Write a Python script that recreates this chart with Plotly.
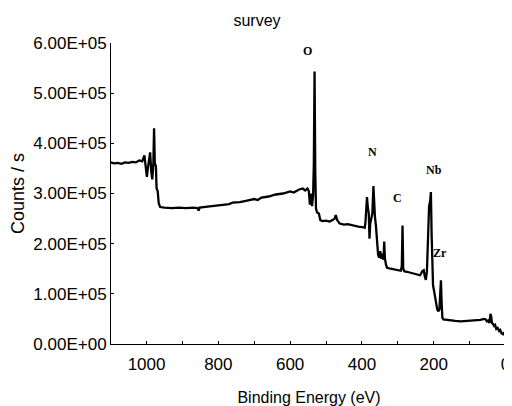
import plotly.graph_objects as go

# Binding energy (eV) and intensity (counts/s)
energy_ev = [1100, 1090, 1080, 1070, 1060, 1050, 1040, 1030, 1020, 1012, 1006, 1003, 999, 996, 993, 990,
             987, 984, 981, 979, 977, 974, 972, 969, 966, 962, 950, 930, 910, 890, 870, 858, 855, 852,
             830, 810, 790, 770, 760, 740, 720, 700, 690, 680, 660, 640, 620, 600, 590, 575, 565, 558,
             552, 548, 545, 542, 539, 536, 534, 532, 530, 528, 525, 520, 516, 510, 500, 490, 482, 476,
             473, 469, 462, 450, 440, 430, 420, 410, 400, 392, 390, 388, 386, 384, 381, 379, 377, 374,
             371, 368, 366, 364, 361, 358, 355, 352, 349, 347, 345, 342, 340, 338, 336, 333, 330, 320,
             310, 300, 292, 289, 287, 285, 282, 275, 265, 255, 245, 238, 232, 228, 225, 222, 219, 216,
             213, 210, 208, 206, 204, 202, 199, 196, 193, 190, 187, 184, 182, 180, 178, 176, 173, 165,
             150, 140, 125, 110, 100, 90, 80, 70, 60, 55, 52, 48, 45, 42, 40, 38, 35, 32, 29, 26, 22,
             18, 15, 12, 8, 5, 2, 0]
counts = [362000, 360000, 361000, 359000, 362000, 361000, 363000, 362000, 366000, 364000, 376000, 358000,
          333000, 352000, 372000, 382000, 345000, 328000, 360000, 430000, 360000, 355000, 310000, 305000,
          280000, 273000, 272000, 271000, 272000, 271000, 272000, 271000, 266000, 272000, 274000, 276000,
          278000, 279000, 282000, 283000, 286000, 289000, 287000, 292000, 294000, 298000, 300000, 304000,
          302000, 308000, 310000, 306000, 310000, 305000, 278000, 300000, 275000, 298000, 360000, 543000,
          340000, 270000, 262000, 260000, 247000, 245000, 246000, 244000, 247000, 250000, 257000, 247000,
          240000, 238000, 239000, 237000, 236000, 234000, 233000, 232000, 245000, 290000, 293000, 275000,
          260000, 210000, 240000, 250000, 260000, 315000, 270000, 255000, 235000, 200000, 178000, 172000,
          185000, 170000, 180000, 172000, 168000, 204000, 170000, 158000, 152000, 150000, 149000, 147000,
          146000, 155000, 236000, 150000, 145000, 144000, 142000, 140000, 138000, 137000, 145000, 147000,
          135000, 128000, 145000, 200000, 275000, 285000, 303000, 220000, 130000, 117000, 105000, 90000,
          78000, 68000, 65000, 70000, 100000, 127000, 80000, 52000, 49000, 48000, 47000, 46000, 45000,
          46000, 46000, 47000, 47000, 48000, 50000, 49000, 45000, 47000, 42000, 60000, 55000, 42000,
          40000, 36000, 38000, 30000, 32000, 26000, 28000, 22000, 20000, 22000, 17000, 16000]

# Peak labels
peak_labels = ["O", "N", "C", "Nb", "Zr"]
peak_label_ev = [552, 371, 302, 200, 182]
peak_label_counts = [584000, 383000, 291000, 347000, 181000]

# Axis ticks
y_tick_vals = [0, 100000, 200000, 300000, 400000, 500000, 600000]
y_tick_text = ["0.00E+00", "1.00E+05", "2.00E+05", "3.00E+05", "4.00E+05", "5.00E+05", "6.00E+05"]
x_tick_vals = [1000, 800, 600, 400, 200, 0]
x_tick_text = ["1000", "800", "600", "400", "200", "0"]
x_minor_vals = [900, 700, 500, 300, 100]

FONT = "Liberation Sans, Arial, sans-serif"
W, H = 504, 398  # page body adds an 8px margin in the 512x406 window

fig = go.Figure()
fig.add_trace(go.Scatter(
    x=energy_ev, y=counts, mode="lines",
    line=dict(color="black", width=2.3),
    showlegend=False, hoverinfo="skip"))

for lab, ex, cy in zip(peak_labels, peak_label_ev, peak_label_counts):
    fig.add_annotation(x=ex, y=cy, text="<b>%s</b>" % lab, showarrow=False,
                       xanchor="center", yanchor="middle",
                       font=dict(family="Liberation Serif, Times New Roman, serif", size=12, color="black"))

fig.update_layout(
    width=W, height=H, autosize=False,
    margin=dict(l=103, r=2, t=35, b=62),
    paper_bgcolor="white", plot_bgcolor="white",
    font=dict(family=FONT, color="black", size=17),
    title=dict(text="survey", x=249 / W, xref="container", xanchor="center",
               y=1 - 12 / H, yref="container", yanchor="middle",
               font=dict(family=FONT, size=16, color="black")),
)
fig.update_xaxes(
    range=[1099, -4], showgrid=False, zeroline=False,
    showline=True, linecolor="black", linewidth=1,
    tickmode="array", tickvals=x_tick_vals, ticktext=x_tick_text,
    ticks="inside", ticklen=3, tickcolor="black",
    minor=dict(tickmode="array", tickvals=x_minor_vals, ticks="inside", ticklen=3, tickcolor="black"),
    tickfont=dict(family=FONT, size=17),
    ticklabelstandoff=5, ticklabeloverflow="allow",
    title=dict(text="Binding Energy (eV)", standoff=18, font=dict(family=FONT, size=16)),
)
fig.update_yaxes(
    range=[0, 600000], showgrid=False, zeroline=False,
    showline=True, linecolor="black", linewidth=1,
    tickmode="array", tickvals=y_tick_vals, ticktext=y_tick_text,
    ticks="inside", ticklen=3, tickcolor="black",
    tickfont=dict(family=FONT, size=17),
    title=dict(text="Counts / s", standoff=8, font=dict(family=FONT, size=18)),
)

fig.write_html("out.html")
